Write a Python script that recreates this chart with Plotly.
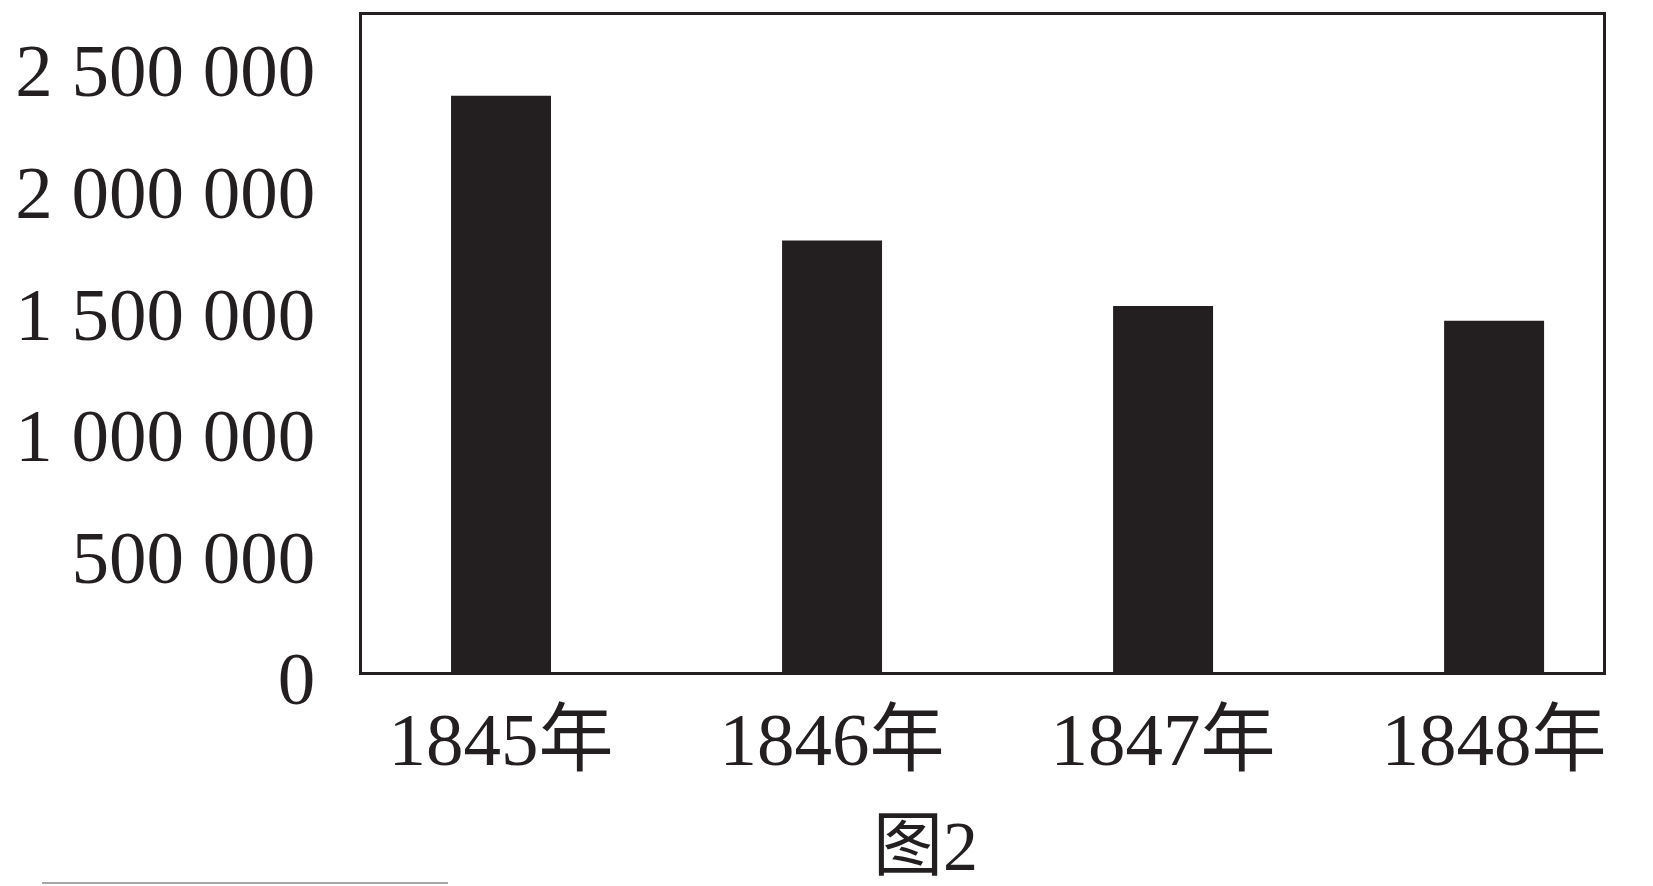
import plotly.graph_objects as go

_INK = "#231f20"
_FONT = "Liberation Serif, Times New Roman, Noto Sans CJK SC, serif"

years = ["1845年", "1846年", "1847年", "1848年"]
values = [2370000, 1775000, 1505000, 1445000]
tick_vals = [0, 500000, 1000000, 1500000, 2000000, 2500000]
tick_text = ["0", "500 000", "1 000 000", "1 500 000", "2 000 000", "2 500 000"]

# page body has an 8px margin, so the figure is 8px smaller each way
W, H = 1645, 878
L, T, R, B = 354, 4, 50, 214
plot_w = W - L - R
plot_h = H - T - B
x0_page, y0_page = 8 + L, 8 + T + plot_h  # plot-area bottom-left on the page


def px(xp):
    return (xp - x0_page) / plot_w


def py(yp):
    return (y0_page - yp) / plot_h


fig = go.Figure()
fig.add_trace(go.Bar(x=list(range(len(years))), y=values, width=0.302,
                     marker=dict(color=_INK, line=dict(width=0))))

fig.update_layout(
    width=W, height=H, showlegend=False,
    margin=dict(l=L, r=R, t=T, b=B),
    paper_bgcolor="white", plot_bgcolor="white",
    font=dict(family=_FONT, size=75, color=_INK),
    xaxis=dict(range=[-0.42, 3.329], tickmode="array",
               tickvals=list(range(len(years))), ticktext=years,
               showgrid=False, zeroline=False, ticks="",
               showline=True, mirror=True, linecolor=_INK, linewidth=2.5,
               ticklabelstandoff=0),
    yaxis=dict(range=[0, 2702000], tickmode="array",
               tickvals=tick_vals, ticktext=tick_text,
               showgrid=False, zeroline=False, ticks="",
               showline=True, mirror=True, linecolor=_INK, linewidth=2.5,
               ticklabelstandoff=29, ticklabelshift=6),
    annotations=[dict(text="图2", xref="paper", yref="paper",
                      x=px(925), y=py(847), xanchor="center", yanchor="middle",
                      showarrow=False, font=dict(family=_FONT, size=70, color=_INK))],
    shapes=[dict(type="line", xref="paper", yref="paper",
                 x0=px(42), x1=px(448), y0=py(884), y1=py(884),
                 line=dict(color="#888888", width=1.5))],
)

fig.write_html("out.html")
